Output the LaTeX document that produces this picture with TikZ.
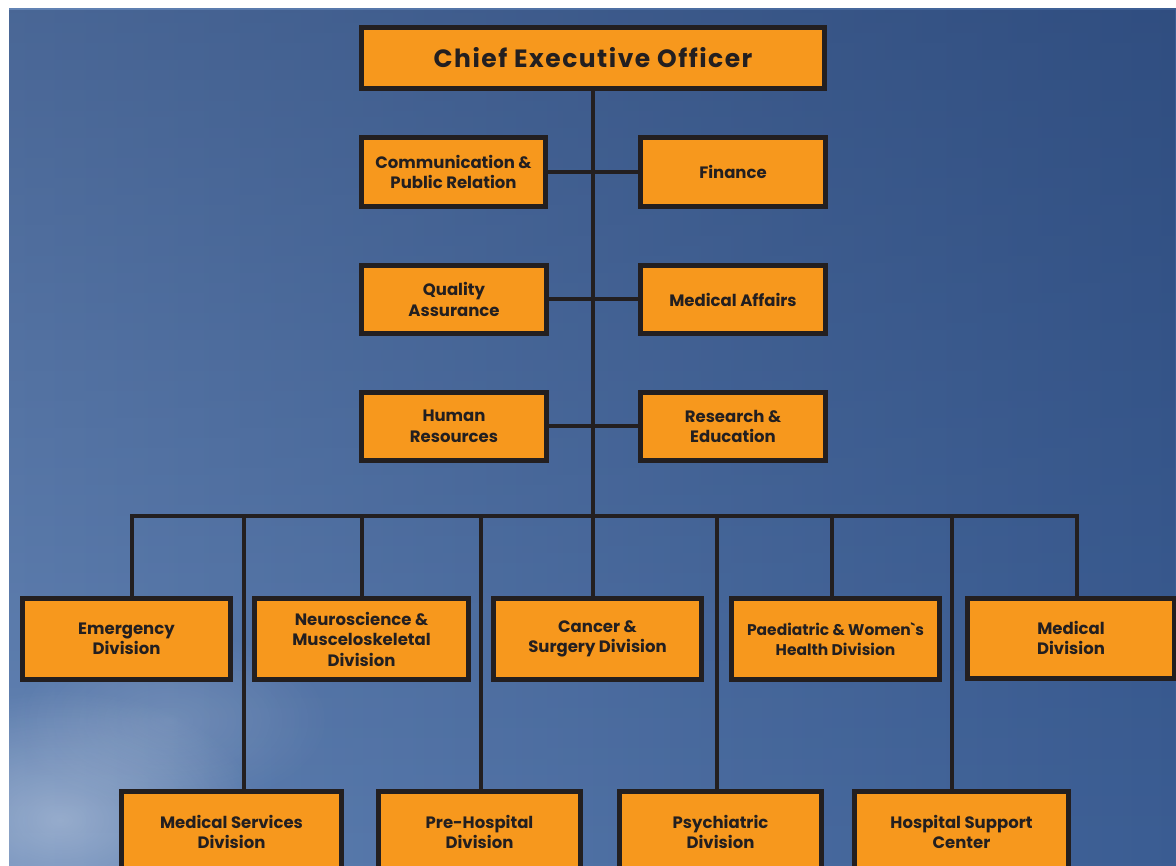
\documentclass[tikz,border=0pt]{standalone}
\usepackage{fontspec}
\setmainfont{Poppins}
\newfontfamily\ceofont{Poppins}[LetterSpace=6]
\usetikzlibrary{fadings}
\definecolor{bgL}{HTML}{6283B4}
\definecolor{bgR}{HTML}{3B5D93}
\definecolor{navy}{HTML}{1C325E}
\definecolor{boxfill}{HTML}{F7981D}
\definecolor{ink}{HTML}{231F20}
\tikzfading[name=topdark, top color=transparent!0, bottom color=transparent!100]
\tikzfading[name=glow, inner color=transparent!0, outer color=transparent!100]
\begin{document}
\begin{tikzpicture}[x=1pt,y=-1pt,
  box/.style={draw=ink, line width=5pt, fill=boxfill, text=ink, align=center,
    font=\bfseries\fontsize{16.5}{20.5}\selectfont, inner sep=0pt},
  link/.style={draw=ink, line width=4pt, line join=miter}]
\useasboundingbox (0,0) rectangle (1176,866);
\begin{scope}
\clip (0,0) rectangle (1176,866);
\fill[white] (0,0) rectangle (1176,866);
\shade[left color=bgL, right color=bgR] (9,9) rectangle (1176,866);
\fill[navy, path fading=topdark, opacity=0.35] (9,9) rectangle (1176,866);
\fill[white, path fading=glow, opacity=0.35] (60,820) ellipse (200 and 130);
\fill[white, path fading=glow, opacity=0.15] (170,720) ellipse (160 and 90);

% nodes
\node[box, minimum width=463pt, minimum height=61pt] (ceo) at (593,58)
  {\ceofont\bfseries\fontsize{25}{29}\selectfont Chief Executive Officer};
\node[box, minimum width=184pt, minimum height=69pt] (comm) at (453.5,172) {Communication \&\\Public Relation};
\node[box, minimum width=185pt, minimum height=69pt] (fin) at (733,172) {Finance};
\node[box, minimum width=185pt, minimum height=68pt] (qa) at (454,299.5) {Quality\\Assurance};
\node[box, minimum width=185pt, minimum height=68pt] (ma) at (733,299.5) {Medical Affairs};
\node[box, minimum width=185pt, minimum height=68pt] (hr) at (454,426.5) {Human\\Resources};
\node[box, minimum width=185pt, minimum height=68pt] (re) at (733,426.5) {Research \&\\Education};

\node[box, minimum width=208pt, minimum height=81pt] (emerg) at (126.5,639) {Emergency\\Division};
\node[box, minimum width=214pt, minimum height=81pt] (neuro) at (361.5,639) {Neuroscience \&\\Musceloskeletal\\Division};
\node[box, minimum width=208pt, minimum height=81pt] (cancer) at (597.5,639) {Cancer \&\\Surgery Division};
\node[box, minimum width=208pt, minimum height=81pt, font=\bfseries\fontsize{15.5}{20.5}\selectfont] (paed) at (835.5,639) {Paediatric \& Women\textasciigrave s\\Health Division};
\node[box, minimum width=207pt, minimum height=80pt] (med) at (1071,638) {Medical\\Division};

\node[box, minimum width=220pt, minimum height=81pt] (medsvc) at (231.5,832) {Medical Services\\Division};
\node[box, minimum width=202pt, minimum height=81pt] (prehosp) at (479.5,832) {Pre-Hospital\\Division};
\node[box, minimum width=202pt, minimum height=81pt] (psych) at (720.5,832) {Psychiatric\\Division};
\node[box, minimum width=214pt, minimum height=81pt] (hsc) at (961.5,832) {Hospital Support\\Center};

% bus coordinates
\coordinate (b1) at (132,516);
\coordinate (b2) at (244,516);
\coordinate (b3) at (362,516);
\coordinate (b4) at (481,516);
\coordinate (b5) at (593,516);
\coordinate (b6) at (717,516);
\coordinate (b7) at (832,516);
\coordinate (b8) at (952,516);
\coordinate (b9) at (1077,516);

% connectors
\draw[link] (ceo.south) -- (b5);
\draw[link] (comm.east) -- (fin.west);
\draw[link] (qa.east) -- (ma.west);
\draw[link] (hr.east) -- (re.west);
\draw[link] (b1 |- emerg.north) -- (b1) -- (b9) -- (b9 |- med.north);
\draw[link] (b2) -- (b2 |- medsvc.north);
\draw[link] (b3) -- (b3 |- neuro.north);
\draw[link] (b4) -- (b4 |- prehosp.north);
\draw[link] (b5) -- (b5 |- cancer.north);
\draw[link] (b6) -- (b6 |- psych.north);
\draw[link] (b7) -- (b7 |- paed.north);
\draw[link] (b8) -- (b8 |- hsc.north);
\end{scope}
\end{tikzpicture}
\end{document}
